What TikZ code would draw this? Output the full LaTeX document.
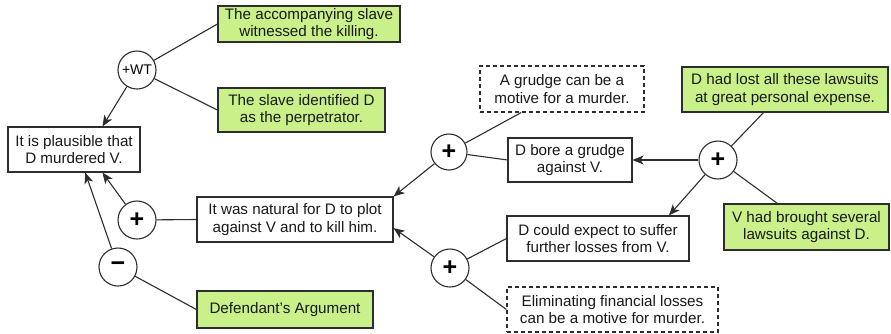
\documentclass[tikz,border=0pt]{standalone}
\usepackage{fontspec}
\setmainfont{Liberation Sans}
\usetikzlibrary{arrows.meta}
\definecolor{boxgreen}{RGB}{202,240,138}
\definecolor{linegray}{RGB}{45,45,45}
\tikzset{
  txt/.style={font=\fontsize{15.2}{17.5}\selectfont, text=black!90, align=center, inner sep=0pt},
  plainbox/.style={txt, draw=linegray, line width=1.1pt, fill=white},
  greenbox/.style={txt, draw=linegray, line width=1.1pt, fill=boxgreen},
  dashbox/.style={txt, draw=linegray, line width=1.1pt, dashed, dash pattern=on 4pt off 3pt, fill=white},
  opcircle/.style={circle, draw=linegray, line width=1.1pt, fill=white, minimum size=38pt, inner sep=0pt, text=black},
  conn/.style={draw=linegray, line width=1.1pt},
  arr/.style={conn, -{Stealth[length=11pt,width=9pt,inset=3pt]}},
}
\newcommand{\plussign}{\fontsize{25}{25}\selectfont\bfseries +}
\newcommand{\minussign}{\fontsize{25}{25}\selectfont\bfseries \char"2212}
\begin{document}
\begin{tikzpicture}[x=1pt,y=-1pt]
\useasboundingbox (0,0) rectangle (891,333);
% boxes
\node[greenbox, minimum width=182pt, minimum height=36pt] (acc) at (309,24) {The accompanying slave\\witnessed the killing.};
\node[greenbox, minimum width=167pt, minimum height=44pt] (sid) at (301.5,110) {The slave identified D\\as the perpetrator.};
\node[plainbox, minimum width=132pt, minimum height=45pt] (plaus) at (74,149.5) {It is plausible that\\D murdered V.};
\node[plainbox, minimum width=196pt, minimum height=45pt] (nat) at (295,219.5) {It was natural for D to plot\\against V and to kill him.};
\node[greenbox, minimum width=176pt, minimum height=37pt] (def) at (285,309.5) {Defendant's Argument};
\node[dashbox, minimum width=164pt, minimum height=46pt] (grudge) at (562,89) {A grudge can be a\\motive for a murder.};
\node[plainbox, minimum width=124pt, minimum height=44pt] (bore) at (570,160) {D bore a grudge\\against V.};
\node[greenbox, minimum width=206pt, minimum height=45pt] (lost) at (785,89.5) {D had lost all these lawsuits\\at great personal expense.};
\node[plainbox, minimum width=182pt, minimum height=45pt] (expect) at (598,238.5) {D could expect to suffer\\further losses from V.};
\node[greenbox, minimum width=165pt, minimum height=46pt] (vhad) at (806.5,227) {V had brought several\\lawsuits against D.};
\node[dashbox, minimum width=211pt, minimum height=45pt] (elim) at (612.5,309.5) {Eliminating financial losses\\can be a motive for murder.};
% circles
\node[opcircle, font=\fontsize{14}{14}\selectfont] (wt) at (137,70) {+WT};
\node[opcircle] (p1) at (137,220) {\plussign};
\node[opcircle] (m1) at (118,267) {\minussign};
\node[opcircle, minimum size=36pt] (p2) at (449,152) {\plussign};
\node[opcircle] (p3) at (718,160) {\plussign};
\node[opcircle] (p4) at (450,268) {\plussign};
% connectors
\draw[conn] (wt) -- (acc.west);
\draw[conn] (wt) -- (sid.west);
\draw[arr] (wt) -- (plaus.39);
\draw[arr] (p1) -- (plaus.-39);
\draw[arr] (m1) -- (plaus.-64);
\draw[conn] (p1) -- (nat.west);
\draw[conn] (m1) -- (def.west);
\draw[arr] (p2) -- (nat.north east);
\draw[arr] (p4) -- (nat.-5);
\draw[conn] (p2) -- (grudge.210);
\draw[conn] (p2) -- (bore.west);
\draw[arr] (p3) -- (bore.east);
\draw[conn] (p3) -- (lost.227);
\draw[arr] (p3) -- (expect.18);
\draw[conn] (p3) -- (vhad.141);
\draw[conn] (p4) -- (expect.west);
\draw[conn] (p4) -- (elim.west);
\end{tikzpicture}
\end{document}
